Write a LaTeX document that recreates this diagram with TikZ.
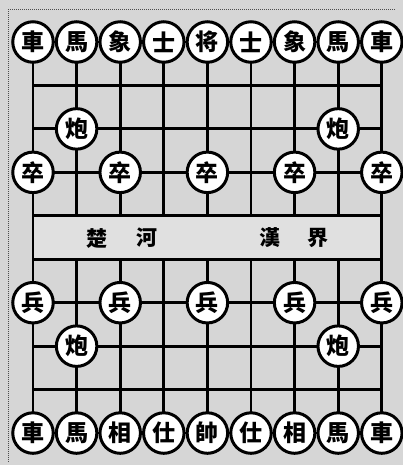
\documentclass[tikz,border=0pt]{standalone}
\usepackage{fontspec}
\newfontfamily\cjk{Noto Sans CJK TC}
\begin{document}
\begin{tikzpicture}[x=1pt,y=-1pt,
  gridline/.style={line width=2.8pt, black},
  frameline/.style={line width=1pt, black!70, densely dotted},
  piece/.style={circle, draw, line width=3pt, fill=white, minimum size=40.5pt, inner sep=0pt,
    font=\cjk\bfseries\fontsize{23}{23}\selectfont},
  rivertext/.style={font=\cjk\bfseries\fontsize{21}{21}\selectfont, inner sep=0pt}]
\useasboundingbox (0,0) rectangle (403,465);
\fill[black!16] (0,0) rectangle (403,465);
% grid coordinates
\foreach \r in {0,...,9}{
  \foreach \c in {0,...,8}{
    \coordinate (g-\r-\c) at ({33+43.6*\c},{42+43.45*\r});
  }
}
\coordinate (fTL) at (8,10);
\coordinate (fTR) at (396,10);
\coordinate (fBL) at (8,462);
\draw[frameline] (fBL) -- (fTL) -- (fTR);
% river band
\fill[black!12] (g-4-0) rectangle (g-5-8);
% horizontal lines
\foreach \r in {0,...,9}{
  \draw[gridline] (g-\r-0) -- (g-\r-8);
}
% vertical lines
\draw[gridline] (g-0-0) -- (g-9-0);
\draw[gridline] (g-0-8) -- (g-9-8);
\foreach \c in {1,...,7}{
  \draw[gridline] (g-0-\c) -- (g-4-\c);
  \draw[gridline] (g-5-\c) -- (g-9-\c);
}
% river text
\node[rivertext] (t1) at (97,238) {楚};
\node[rivertext] (t2) at (147,238) {河};
\node[rivertext] (t3) at (270,238) {漢};
\node[rivertext] (t4) at (318,238) {界};
% top pieces
\foreach \c/\t in {0/車,1/馬,2/象,3/士,4/将,5/士,6/象,7/馬,8/車}{
  \node[piece] (p-0-\c) at (g-0-\c) {\t};
}
\node[piece] (p-2-1) at (g-2-1) {炮};
\node[piece] (p-2-7) at (g-2-7) {炮};
\foreach \c in {0,2,4,6,8}{
  \node[piece] (p-3-\c) at (g-3-\c) {卒};
  \node[piece] (p-6-\c) at (g-6-\c) {兵};
}
\node[piece] (p-7-1) at (g-7-1) {炮};
\node[piece] (p-7-7) at (g-7-7) {炮};
\foreach \c/\t in {0/車,1/馬,2/相,3/仕,4/帥,5/仕,6/相,7/馬,8/車}{
  \node[piece] (p-9-\c) at (g-9-\c) {\t};
}
\end{tikzpicture}
\end{document}
